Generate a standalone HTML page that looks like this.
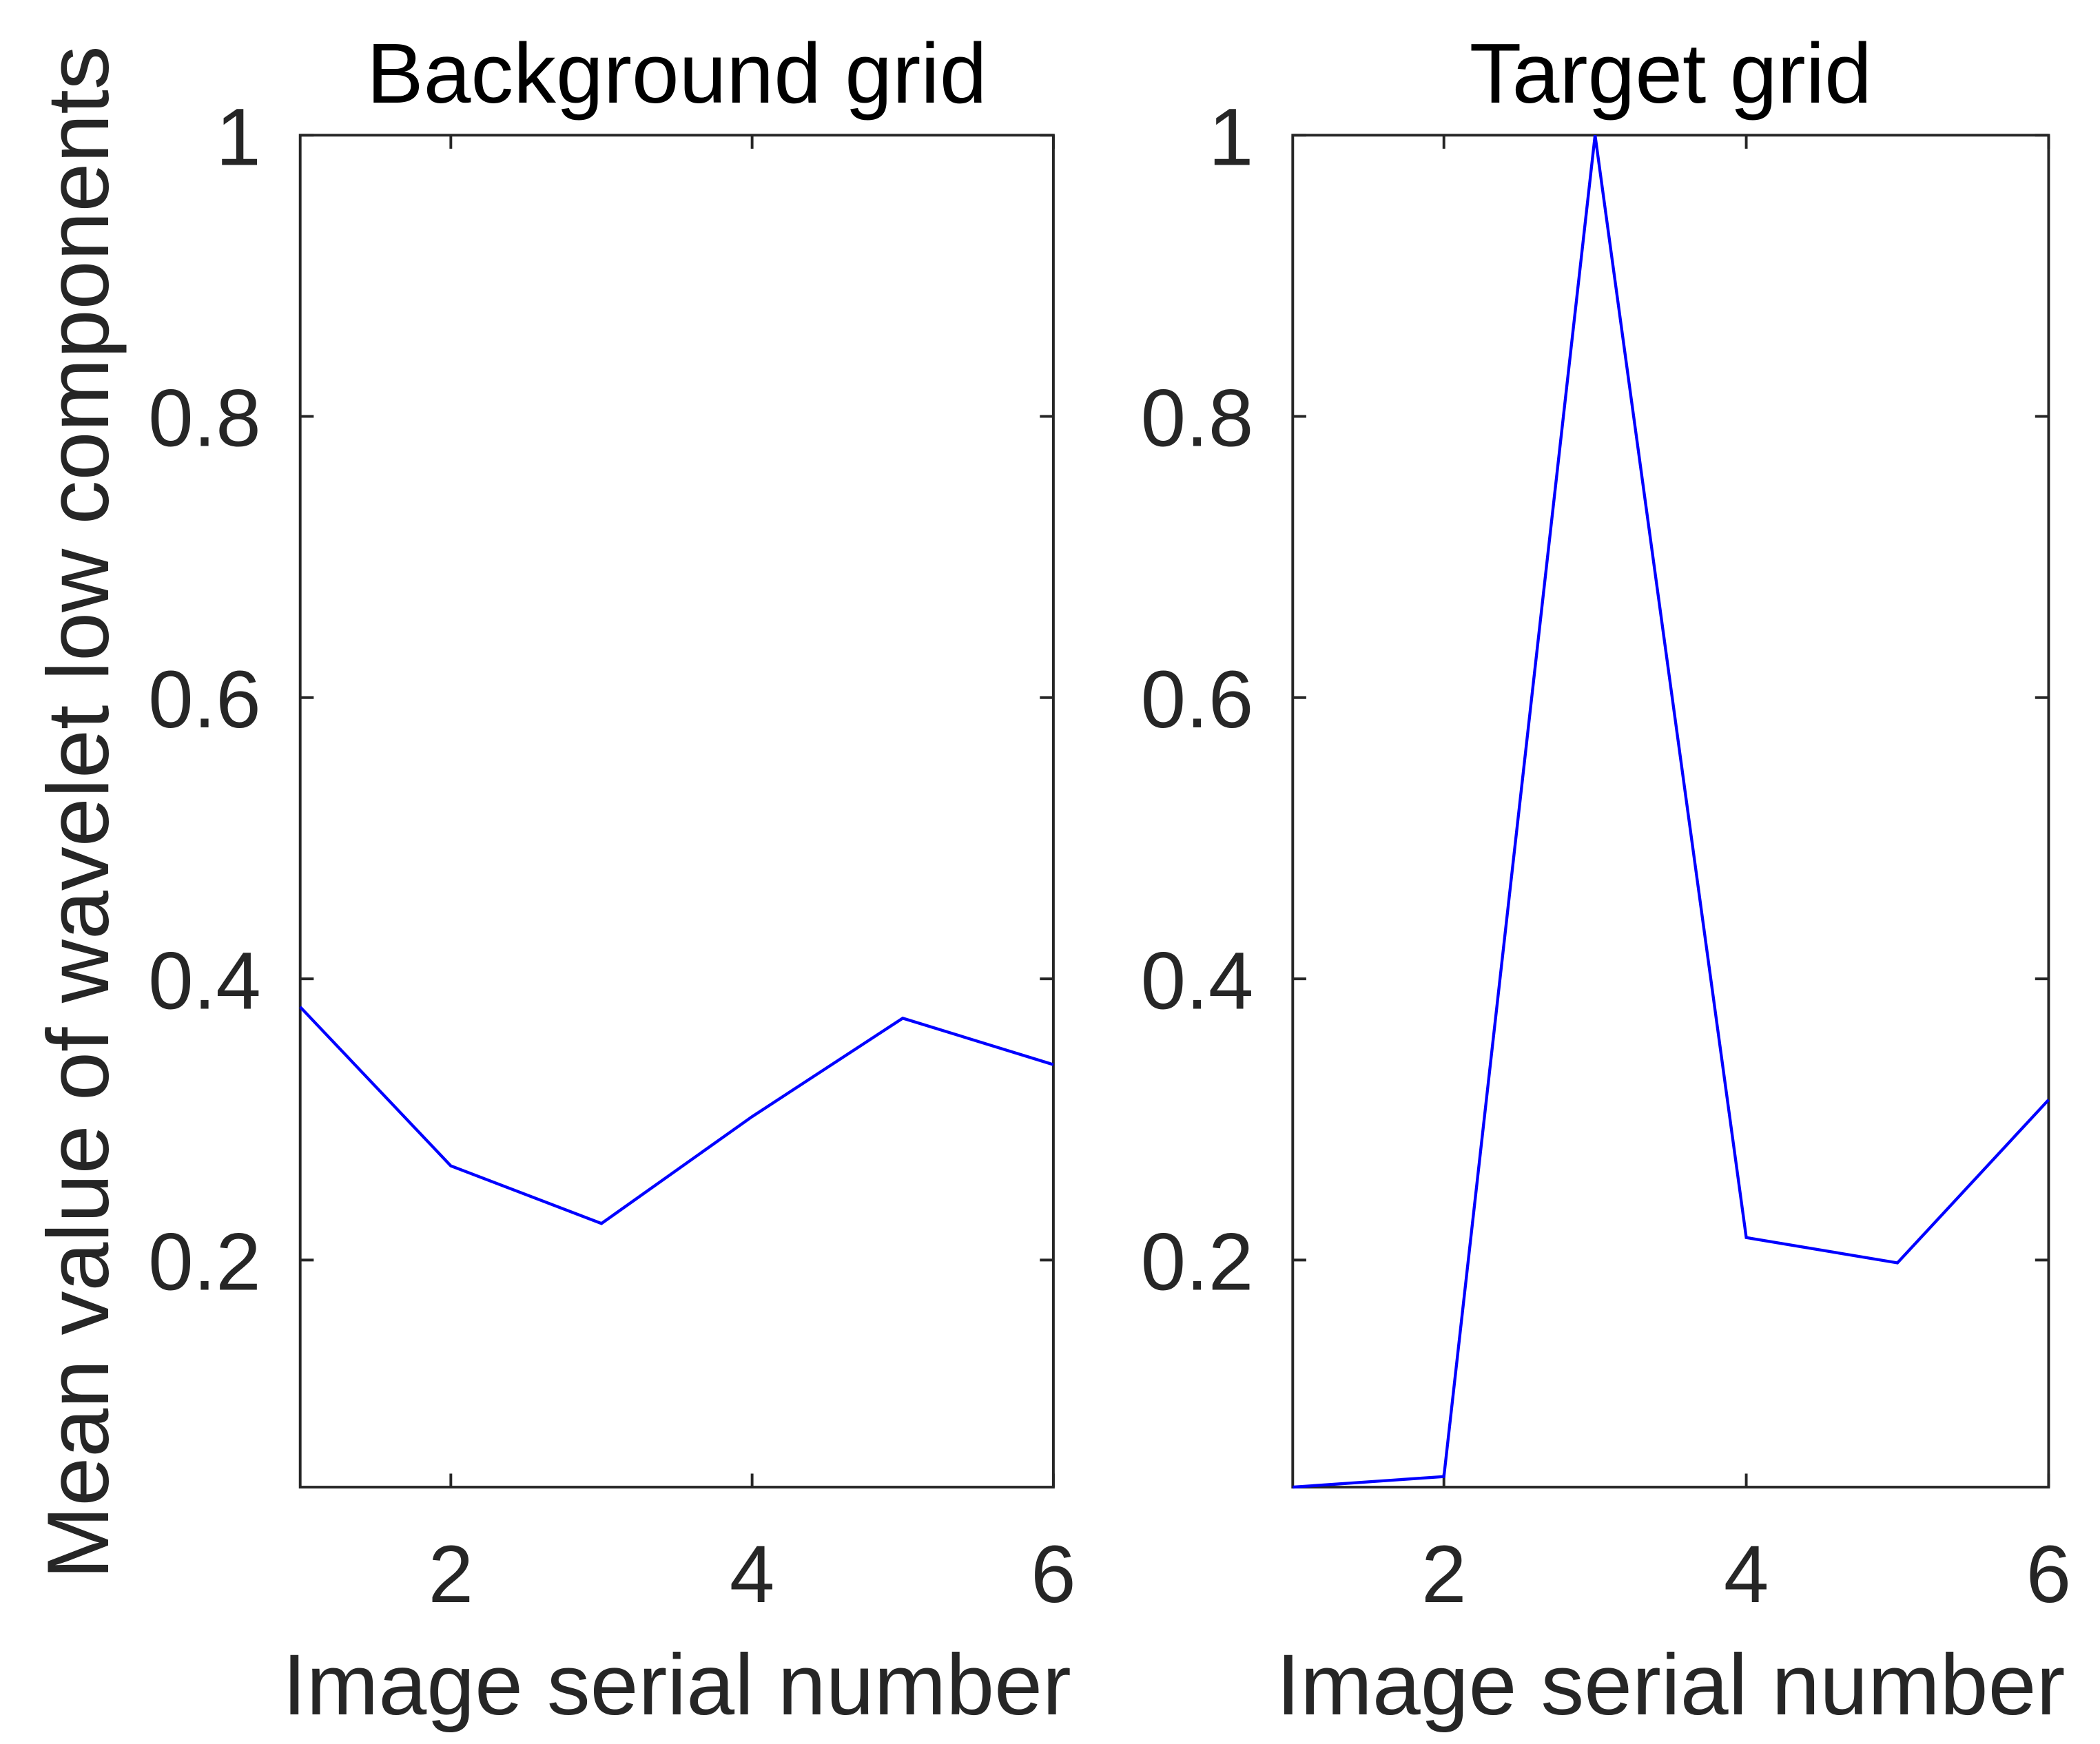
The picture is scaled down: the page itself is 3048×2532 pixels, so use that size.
<!DOCTYPE html>
<html><head><meta charset="utf-8"><style>
html,body{margin:0;padding:0;background:#fff;}
svg{display:block;}
text{font-family:"Liberation Sans",sans-serif;fill:#262626;}
</style></head><body>
<svg id="chart" width="3048" height="2532" viewBox="0 0 1553 1290" preserveAspectRatio="none" xmlns="http://www.w3.org/2000/svg"></svg>
<script>
const xValues = [1, 2, 3, 4, 5, 6];
const backgroundValues = [0.38, 0.267, 0.226, 0.302, 0.372, 0.339];
const targetValues = [0.0385, 0.046, 1.0, 0.216, 0.198, 0.314];
const yTicks = [0.2, 0.4, 0.6, 0.8, 1];
const yTickLabels = ["0.2", "0.4", "0.6", "0.8", "1"];
const xTicks = [2, 4, 6];
const xTickLabels = ["2", "4", "6"];
const titles = ["Background grid", "Target grid"];

const NS = "http://www.w3.org/2000/svg";
const svg = document.getElementById('chart');
const Y0 = 100, Y1 = 1100, yMin = 0.0385, yMax = 1;
function yScale(v){ return Y1 - (v - yMin) / (yMax - yMin) * (Y1 - Y0); }
function mk(tag, attrs){ const e = document.createElementNS(NS, tag); for (const k in attrs) e.setAttribute(k, attrs[k]); svg.appendChild(e); return e; }

function panel(x0, x1, values, title, key){
  const xScale = v => x0 + (v - 1) / 5 * (x1 - x0);
  const box = mk('rect', {x:x0, y:Y0, width:x1-x0, height:Y1-Y0, fill:'none', stroke:'#262626', 'stroke-width':2});
  
  
  yTicks.forEach((t, i) => {
    const y = yScale(t);
    const a = mk('line', {x1:x0, x2:x0+10, y1:y, y2:y, stroke:'#262626', 'stroke-width':2});
    
    
    const b = mk('line', {x1:x1-10, x2:x1, y1:y, y2:y, stroke:'#262626', 'stroke-width':2});
    
    
    const tx = mk('text', {x:x0-29, y:y+22, 'font-size':60, 'text-anchor':'end'});
    tx.textContent = yTickLabels[i];
    
    
  });
  xTicks.forEach((t, i) => {
    const x = xScale(t);
    const a = mk('line', {x1:x, x2:x, y1:Y1, y2:Y1-10, stroke:'#262626', 'stroke-width':2});
    
    
    const b = mk('line', {x1:x, x2:x, y1:Y0, y2:Y0+10, stroke:'#262626', 'stroke-width':2});
    
    
    const tx = mk('text', {x:x, y:1185, 'font-size':60, 'text-anchor':'middle'});
    tx.textContent = xTickLabels[i];
    
    
  });
  const pts = values.map((v, i) => xScale(xValues[i]) + ',' + yScale(v)).join(' ');
  const line = mk('polyline', {points:pts, fill:'none', stroke:'#0000ff', 'stroke-width':2.2});
  
  
  const tt = mk('text', {x:(x0+x1)/2, y:76, 'font-size':63, 'text-anchor':'middle', style:'fill:#000'});
  tt.textContent = title;
  
  
  const xl = mk('text', {x:(x0+x1)/2, y:1268, 'font-size':64, 'text-anchor':'middle'});
  xl.textContent = 'Image serial number';
  
  
}
panel(222, 779, backgroundValues, titles[0], 'background');
panel(956, 1515, targetValues, titles[1], 'target');
const yl = mk('text', {x:0, y:0, 'font-size':65, 'text-anchor':'middle', transform:'translate(80,601) rotate(-90)'});
yl.textContent = 'Mean value of wavelet low components';


</script>
</body></html>
